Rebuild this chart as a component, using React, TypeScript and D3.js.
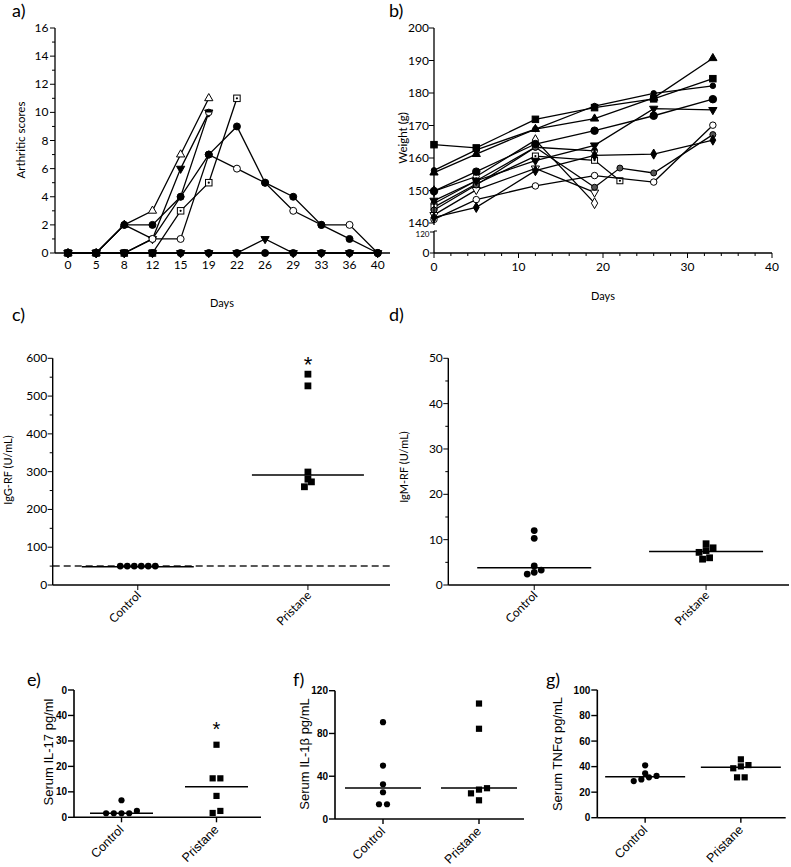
import React from "react";
import * as d3 from "d3";

const SANS = "Lato, 'Open Sans', sans-serif";
const ARIAL = "'Liberation Sans', Arial, sans-serif";

// ---------- Panel a: arthritic scores ----------
const arthDays = ["0", "5", "8", "12", "15", "19", "22", "26", "29", "33", "36", "40"];
const arthYTicks = [0, 2, 4, 6, 8, 10, 12, 14, 16];
const arthYMinor = [1, 3, 5, 7, 9, 11, 13, 15];
const arthTriUp = [0, 0, 2, 3, 7, 11];
const arthTriDown = [0, 0, 0, 1, 6, 10];
const arthHalf = [0, 0, 2, 1, 4, 10];
const arthSqDot = [0, 0, 0, 0, 3, 5, 11];
const arthFilled = [0, 0, 2, 2, 4, 7, 9, 5, 4, 2, 1, 0];
const arthOpen = [0, 0, 0, 1, 1, 7, 6, 5, 3, 2, 2, 0];
const arthBump = [0, 0, 0, 0, 0, 0, 0, 1, 0, 0, 0, 0];
const arthZero = [0, 0, 0, 0, 0, 0, 0, 0, 0, 0, 0, 0];

// ---------- Panel b: weight ----------
const wDays = [0, 5, 12, 19, 22, 26, 33];
const wTicksUpper = [140, 150, 160, 170, 180, 190, 200];
const wTicksLower = [0, 120];
const wXTicks = [0, 10, 20, 30, 40];
const wA = [155.5, 161.2, 168.9, 172.1, null, 178.5, 190.7];
const wB = [164.1, 163.1, 171.9, 175.5, null, 178.2, 184.4];
const wC = [156.2, 162.5, 168.9, 176.0, null, 179.9, 182.2];
const wD = [149.8, 155.8, 164.3, 168.4, null, 173.0, 178.1];
const wE = [146.9, 153.0, 159.2, 163.9, null, 175.2, 174.8];
const wF = [141.1, 147.2, 151.4, 154.6, null, 152.6, 170.1];
const wG = [144.0, 151.7, 163.3, 151.0, 156.9, 155.4, 167.2];
const wH = [141.7, 144.8, 156.1, 160.8, null, 161.2, 165.5];
const wI = [144.9, 152.0, 160.6, 159.3, 153.0, null, null];
const wJ = [149.8, 154.3, 165.5, 146.1, null, null, null];
const wK = [142.5, 150.2, 156.8, 149.4, null, null, null];
const wL = [146.0, 153.0, 163.3, 162.2, null, null, null];

// ---------- Panels c-g: dot plots ----------
const groups = ["Control", "Pristane"];
const iggControl = [50, 50, 50, 50, 50, 50];
const iggPristane = [558, 527, 299, 280, 273, 260];
const iggMedians = [48.5, 291];
const iggTicks = [0, 100, 200, 300, 400, 500, 600];
const iggMinor = [50, 150, 250, 350, 450, 550];
const iggCutoff = 50;

const igmControl = [12, 10.3, 4.2, 3.3, 2.8, 2.4];
const igmPristane = [9.1, 8.2, 7.6, 7.2, 6.0, 5.7];
const igmMedians = [3.8, 7.4];
const igmTicks = [0, 10, 20, 30, 40, 50];
const igmMinor = [5, 15, 25, 35, 45];

const il17Control = [6.7, 2.5, 1.6, 1.6, 1.6, 1.6];
const il17Pristane = [28.5, 15.3, 15.3, 8.4, 2.5, 1.7];
const il17Medians = [1.6, 12.0];
const il17Ticks = [0, 10, 20, 30, 40, 50];
const il17TickLabels = ["0", "10", "20", "30", "40", "0"];

const il1bControl = [90.6, 50, 32.5, 25, 13.8, 13.8];
const il1bPristane = [108, 84.4, 28.8, 27.5, 24, 17.5];
const il1bMedians = [29, 29];
const il1bTicks = [0, 40, 80, 120];

const tnfControl = [41, 34.8, 32.7, 31.6, 30, 28.7];
const tnfPristane = [45.7, 41.2, 40.2, 38.7, 31.6, 31.6];
const tnfMedians = [32.1, 39.5];
const tnfTicks = [0, 20, 40, 60, 80, 100];

type Shape = "circle" | "square" | "triangle" | "triangleDown" | "diamond" | "squareDot" | "halfCircle";

function Marker({ shape, fill, x, y, s }: { shape: Shape; fill: string; x: number; y: number; s: number }) {
  const sw = 1;
  if (shape === "circle")
    return <circle cx={x} cy={y} r={s / 2} fill={fill} stroke="black" strokeWidth={sw} />;
  if (shape === "halfCircle")
    return (
      <g>
        <circle cx={x} cy={y} r={s / 2} fill="white" stroke="black" strokeWidth={sw} />
        <path d={`M${x - s / 2},${y} A${s / 2},${s / 2} 0 0 1 ${x + s / 2},${y} Z`} fill="black" />
      </g>
    );
  if (shape === "square")
    return <rect x={x - s / 2} y={y - s / 2} width={s} height={s} fill={fill} stroke="black" strokeWidth={sw} />;
  if (shape === "squareDot")
    return (
      <g>
        <rect x={x - s / 2} y={y - s / 2} width={s} height={s} fill="white" stroke="black" strokeWidth={sw} />
        <circle cx={x} cy={y} r={1.1} fill="black" />
      </g>
    );
  const sym = shape === "diamond" ? d3.symbolDiamond : d3.symbolTriangle;
  const p = d3.symbol(sym, s * s * 0.7)() as string;
  return (
    <path
      d={p}
      transform={`translate(${x},${y})${shape === "triangleDown" ? " rotate(180)" : ""}`}
      fill={fill}
      stroke="black"
      strokeWidth={sw}
    />
  );
}

function rowOffsets(vals: number[], y: (v: number) => number, thresh: number, spacing: number) {
  const idx = vals.map((_, i) => i).sort((a, b) => vals[a] - vals[b]);
  const off = new Array(vals.length).fill(0);
  let row: number[] = [];
  const flush = () => {
    row.forEach((j, k) => (off[j] = (k - (row.length - 1) / 2) * spacing));
    row = [];
  };
  for (const i of idx) {
    if (row.length && Math.abs(y(vals[i]) - y(vals[row[0]])) >= thresh) flush();
    row.push(i);
  }
  flush();
  return off;
}

// ---------------- Panel A ----------------
function PanelA() {
  const x = d3.scalePoint<string>().domain(arthDays).range([68, 377.7]);
  const y = d3.scaleLinear().domain([0, 16]).range([253, 28]);
  const line = d3
    .line<number>()
    .x((_, i) => x(arthDays[i]) as number)
    .y((d) => y(d));
  const series: { v: number[]; shape: Shape; fill: string }[] = [
    { v: arthTriUp, shape: "triangle", fill: "white" },
    { v: arthTriDown, shape: "triangleDown", fill: "black" },
    { v: arthHalf, shape: "halfCircle", fill: "white" },
    { v: arthSqDot, shape: "squareDot", fill: "white" },
    { v: arthOpen, shape: "circle", fill: "white" },
    { v: arthFilled, shape: "circle", fill: "black" },
    { v: arthBump, shape: "triangleDown", fill: "black" },
    { v: arthZero, shape: "circle", fill: "black" },
  ];
  return (
    <g fontFamily={SANS}>
      <text x={12} y={17} fontSize={18}>a)</text>
      {series.map((s, k) => (
        <path key={k} d={line(s.v) as string} fill="none" stroke="black" strokeWidth={1.3} />
      ))}
      {series.map((s, k) =>
        s.v.map((d, i) => (
          <Marker key={k + "-" + i} shape={s.shape} fill={s.fill} x={x(arthDays[i]) as number} y={y(d)} s={s.shape === "circle" ? 7 : 6.5} />
        ))
      )}
      <line x1={55} x2={55} y1={28} y2={253} stroke="black" strokeWidth={1.3} />
      <line x1={55} x2={390} y1={253} y2={253} stroke="black" strokeWidth={1.5} />
      {arthYTicks.map((t) => (
        <g key={t}>
          <line x1={50} x2={55} y1={y(t)} y2={y(t)} stroke="black" />
          <text x={48.5} y={y(t) + 4} fontSize={12} textAnchor="end">{t}</text>
        </g>
      ))}
      {arthYMinor.map((t) => (
        <line key={t} x1={52} x2={55} y1={y(t)} y2={y(t)} stroke="black" />
      ))}
      {arthDays.map((d) => (
        <text key={d} x={x(d) as number} y={269} fontSize={12} textAnchor="middle">{d}</text>
      ))}
      <text x={222} y={307} fontSize={11} textAnchor="middle">Days</text>
      <text transform="translate(25,140) rotate(-90)" fontSize={11.5} textAnchor="middle">Arthritic scores</text>
    </g>
  );
}

// ---------------- Panel B ----------------
function PanelB() {
  const x = d3.scaleLinear().domain([0, 40]).range([434, 772]);
  const y = d3.scaleLinear().domain([140, 200]).range([223, 28]);
  const y2 = d3.scaleLinear().domain([0, 120]).range([253, 232]);
  const series: { v: (number | null)[]; shape: Shape; fill: string; s: number }[] = [
    { v: wJ, shape: "diamond", fill: "white", s: 7 },
    { v: wK, shape: "triangleDown", fill: "white", s: 6.5 },
    { v: wL, shape: "halfCircle", fill: "white", s: 6 },
    { v: wI, shape: "squareDot", fill: "white", s: 6 },
    { v: wF, shape: "circle", fill: "white", s: 6.5 },
    { v: wG, shape: "circle", fill: "#555", s: 6 },
    { v: wH, shape: "diamond", fill: "black", s: 6.5 },
    { v: wE, shape: "triangleDown", fill: "black", s: 6.5 },
    { v: wD, shape: "circle", fill: "black", s: 7.5 },
    { v: wC, shape: "circle", fill: "black", s: 5.5 },
    { v: wB, shape: "square", fill: "black", s: 6.5 },
    { v: wA, shape: "triangle", fill: "black", s: 6.5 },
  ];
  const minor = d3.range(0, 41, 2);
  return (
    <g fontFamily={SANS}>
      <text x={389} y={17} fontSize={18}>b)</text>
      {series.map((s, k) => {
        const pts = s.v.map((v, i) => [wDays[i], v] as [number, number | null]).filter((p) => p[1] !== null) as [number, number][];
        const line = d3
          .line<[number, number]>()
          .x((p) => x(p[0]))
          .y((p) => y(p[1]));
        return (
          <g key={k}>
            <path d={line(pts) as string} fill="none" stroke="black" strokeWidth={1.3} />
            {pts.map((p, i) => (
              <Marker key={i} shape={s.shape} fill={s.fill} x={x(p[0])} y={y(p[1])} s={s.s} />
            ))}
          </g>
        );
      })}
      <line x1={434} x2={434} y1={28} y2={225} stroke="black" strokeWidth={1.3} />
      <line x1={434} x2={434} y1={231} y2={253} stroke="black" strokeWidth={1.3} />
      <line x1={434} x2={437} y1={231} y2={231} stroke="black" strokeWidth={1} />
      <line x1={434} x2={772} y1={253} y2={253} stroke="black" strokeWidth={1.3} />
      {wTicksUpper.map((t) => (
        <g key={t}>
          <line x1={429} x2={434} y1={y(t)} y2={y(t)} stroke="black" />
          <text x={429} y={y(t) + 4} fontSize={12} textAnchor="end">{t}</text>
        </g>
      ))}
      {wTicksLower.map((t) => (
        <g key={"l" + t}>
          <line x1={430} x2={434} y1={y2(t)} y2={y2(t)} stroke="black" />
          <text x={429.5} y={y2(t) + (t === 120 ? 4.5 : 4)} fontSize={t === 120 ? 8 : 12} textAnchor="end">{t}</text>
        </g>
      ))}
      {minor.map((t) => (
        <line key={t} x1={x(t)} x2={x(t)} y1={253} y2={t % 10 === 0 ? 258 : 256} stroke="black" />
      ))}
      {wXTicks.map((t) => (
        <text key={t} x={x(t)} y={271} fontSize={12} textAnchor="middle">{t}</text>
      ))}
      <text x={603} y={300} fontSize={11} textAnchor="middle">Days</text>
      <text transform="translate(407,138) rotate(-90)" fontSize={11.5} textAnchor="middle">Weight (g)</text>
    </g>
  );
}

// ---------------- Dot plot panel ----------------
type DotProps = {
  label: string;
  labelX: number;
  labelY: number;
  axisX: number;
  axisEnd: number;
  yTop: number;
  yBottom: number;
  max: number;
  ticks: number[];
  tickLabels?: string[];
  minor?: number[];
  ctrl: number[];
  pris: number[];
  medians: number[];
  medHalf: number;
  spacing: number;
  dot: number;
  title: string;
  titleX: number;
  titleY: number;
  cutoff?: number;
  star?: boolean;
  starY?: number;
  style: "calibri" | "arial";
};

function DotPanel(p: DotProps) {
  const y = d3.scaleLinear().domain([0, p.max]).range([p.yBottom, p.yTop]);
  const x = d3.scalePoint<string>().domain(groups).range([p.axisX, p.axisEnd]).padding(0.5);
  const isA = p.style === "arial";
  const font = isA ? ARIAL : SANS;
  const cOff = rowOffsets(p.ctrl, y, p.dot * 0.9, p.spacing);
  const pOff = rowOffsets(p.pris, y, p.dot * 0.9, p.spacing);
  const cx = x("Control") as number;
  const px = x("Pristane") as number;
  const tickLen = isA ? 6 : 5;
  const lineEnd = isA ? p.axisEnd - 3 : p.axisEnd - 3;
  return (
    <g fontFamily={font}>
      <text x={p.labelX} y={p.labelY} fontSize={18} fontFamily={SANS}>{p.label}</text>
      {p.cutoff !== undefined && (
        <line x1={p.axisX} x2={lineEnd} y1={y(p.cutoff)} y2={y(p.cutoff)} stroke="#222" strokeWidth={1.5} strokeDasharray="7,4" />
      )}
      {p.medians.map((m, i) => {
        const gx = i === 0 ? cx : px;
        return <line key={i} x1={gx - p.medHalf} x2={gx + p.medHalf} y1={y(m)} y2={y(m)} stroke="black" strokeWidth={1.4} />;
      })}
      {p.ctrl.map((v, i) => (
        <circle key={"c" + i} cx={cx + cOff[i]} cy={y(v)} r={p.dot / 2} fill="black" />
      ))}
      {p.pris.map((v, i) => (
        <rect key={"p" + i} x={px + pOff[i] - p.dot / 2} y={y(v) - p.dot / 2} width={p.dot} height={p.dot} fill="black" />
      ))}
      {p.star && (
        <text x={px} y={p.starY} fontSize={isA ? 20 : 22} textAnchor="middle" fontFamily={ARIAL}>*</text>
      )}
      <line x1={p.axisX} x2={p.axisX} y1={p.yTop} y2={p.yBottom} stroke="black" strokeWidth={isA ? 1.6 : 1.4} />
      <line x1={p.axisX} x2={lineEnd} y1={p.yBottom} y2={p.yBottom} stroke="black" strokeWidth={isA ? 1.6 : 1.4} />
      {p.ticks.map((t, i) => (
        <g key={t}>
          <line x1={p.axisX - tickLen} x2={p.axisX} y1={y(t)} y2={y(t)} stroke="black" strokeWidth={isA ? 1.4 : 1} />
          <text
            x={p.axisX - tickLen - (isA ? 1 : 0.5)}
            y={y(t) + (isA ? 3.5 : 4)}
            fontSize={isA ? 10 : 12}
            fontWeight={isA ? "bold" : "normal"}
            textAnchor="end"
          >
            {p.tickLabels ? p.tickLabels[i] : t}
          </text>
        </g>
      ))}
      {(p.minor || []).map((t) => (
        <line key={"m" + t} x1={p.axisX - 3} x2={p.axisX} y1={y(t)} y2={y(t)} stroke="black" />
      ))}
      {groups.map((g) => {
        const gx = x(g) as number;
        return (
          <g key={g}>
            <line x1={gx} x2={gx} y1={p.yBottom} y2={p.yBottom + 5} stroke="black" strokeWidth={isA ? 1.4 : 1} />
            <text
              transform={`translate(${gx + (isA ? 3 : 4)},${p.yBottom + (isA ? 13 : 11)}) rotate(-45)`}
              fontSize={isA ? 12.5 : 12}
              textAnchor="end"
            >
              {g}
            </text>
          </g>
        );
      })}
      <text transform={`translate(${p.titleX},${p.titleY}) rotate(-90)`} fontSize={isA ? 13 : 11} textAnchor="middle">
        {p.title}
      </text>
    </g>
  );
}

export default function App() {
  return (
    <svg width={791} height={867} style={{ position: "absolute", left: 0, top: 0, background: "white" }}>
      <rect width={791} height={867} fill="white" />
      <PanelA />
      <PanelB />
      <DotPanel
        label="c)" labelX={12} labelY={321}
        axisX={52.7} axisEnd={393} yTop={358.3} yBottom={585} max={600}
        ticks={iggTicks} minor={iggMinor}
        ctrl={iggControl} pris={iggPristane} medians={iggMedians} medHalf={56}
        spacing={7} dot={6.8}
        title="IgG-RF (U/mL)" titleX={12} titleY={470}
        cutoff={iggCutoff} star starY={372} style="calibri"
      />
      <DotPanel
        label="d)" labelX={389} labelY={321}
        axisX={448.3} axisEnd={792} yTop={358.3} yBottom={585} max={50}
        ticks={igmTicks} minor={igmMinor}
        ctrl={igmControl} pris={igmPristane} medians={igmMedians} medHalf={57}
        spacing={7} dot={6.8}
        title="IgM-RF (U/mL)" titleX={408} titleY={467} style="calibri"
      />
      <DotPanel
        label="e)" labelX={27} labelY={686}
        axisX={74} axisEnd={264} yTop={690} yBottom={817.3} max={50}
        ticks={il17Ticks} tickLabels={il17TickLabels}
        ctrl={il17Control} pris={il17Pristane} medians={il17Medians} medHalf={31.5}
        spacing={7.7} dot={6.2}
        title="Serum IL-17 pg/ml" titleX={53} titleY={752}
        star starY={736} style="arial"
      />
      <DotPanel
        label="f)" labelX={293} labelY={686}
        axisX={335} axisEnd={527} yTop={690.7} yBottom={819} max={120}
        ticks={il1bTicks}
        ctrl={il1bControl} pris={il1bPristane} medians={il1bMedians} medHalf={38}
        spacing={8} dot={6.2}
        title="Serum IL-1β pg/mL" titleX={309} titleY={754} style="arial"
      />
      <DotPanel
        label="g)" labelX={546} labelY={686}
        axisX={597.3} axisEnd={788.7} yTop={690} yBottom={817.7} max={100}
        ticks={tnfTicks}
        ctrl={tnfControl} pris={tnfPristane} medians={tnfMedians} medHalf={40}
        spacing={7.6} dot={6.2}
        title="Serum TNFα pg/mL" titleX={562} titleY={754} style="arial"
      />
    </svg>
  );
}
